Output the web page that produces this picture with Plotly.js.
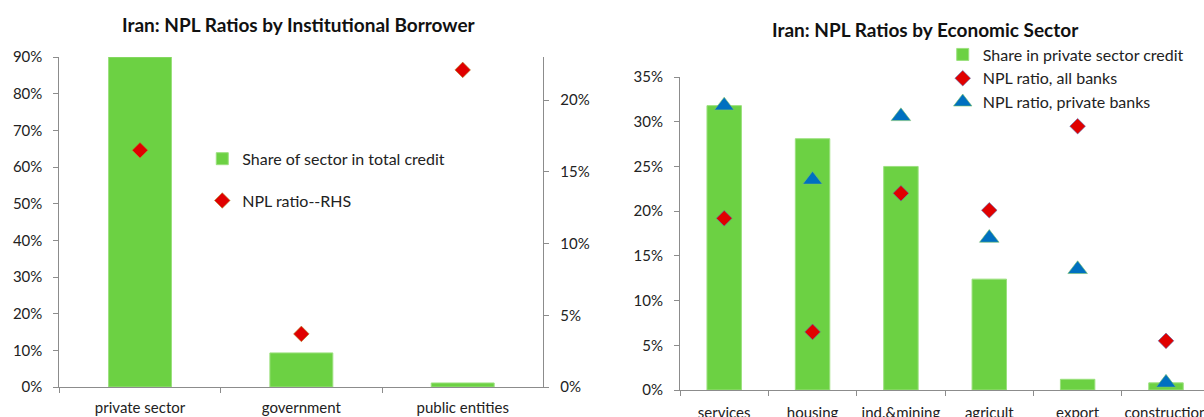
<!DOCTYPE html>
<html>
<head>
<meta charset="utf-8">
<script src="https://cdn.plot.ly/plotly-3.0.1.min.js"></script>
<style>html,body{margin:0;padding:0;background:#fff;}#chart{width:1204px;height:417px;}</style>
</head>
<body>
<div id="chart"></div>
<script>
// Left chart: by institutional borrower
const borrowers = ['private sector', 'government', 'public entities'];
const shareTotalCredit = [0.90, 0.093, 0.011];
const nplRatioRHS = [0.165, 0.037, 0.221];

// Right chart: by economic sector
const sectors = ['services', 'housing', 'ind.&mining', 'agricult', 'export', 'construction'];
const sharePrivateCredit = [0.318, 0.281, 0.250, 0.124, 0.012, 0.008];
const nplAllBanks = [0.192, 0.065, 0.220, 0.201, 0.295, 0.055];
const nplPrivateBanks = [0.318, 0.235, 0.306, 0.170, 0.135, 0.008];

const FONT = 'Lato, "Open Sans", sans-serif';
const GREEN = '#6CD143';
const RED = '#E00000';
const BLUE = '#0070C0';
const AXIS = '#8C8C8C';

const traces = [
  {type: 'bar', x: borrowers, y: shareTotalCredit, xaxis: 'x', yaxis: 'y',
   name: 'Share of sector in total credit', width: 0.39,
   marker: {color: GREEN, line: {color: '#9BE07E', width: 1}},
   legend: 'legend', legendgroup: 'a'},
  {type: 'scatter', mode: 'markers', x: borrowers, y: nplRatioRHS, xaxis: 'x', yaxis: 'y2',
   name: 'NPL ratio--RHS',
   marker: {symbol: 'diamond', size: 12, color: RED, line: {color: '#B08A2E', width: 0.6}},
   legend: 'legend', legendgroup: 'b'},
  {type: 'bar', x: sectors, y: sharePrivateCredit, xaxis: 'x3', yaxis: 'y3',
   name: 'Share in private sector credit', width: 0.39,
   marker: {color: GREEN, line: {color: '#9BE07E', width: 1}},
   legend: 'legend2', legendgroup: 'c'},
  {type: 'scatter', mode: 'markers', x: sectors, y: nplAllBanks, xaxis: 'x3', yaxis: 'y3',
   name: 'NPL ratio, all banks',
   marker: {symbol: 'diamond', size: 12, color: RED, line: {color: '#5A6FB0', width: 0.6}},
   legend: 'legend2', legendgroup: 'd'},
  {type: 'scatter', mode: 'markers', x: sectors, y: nplPrivateBanks, xaxis: 'x3', yaxis: 'y3',
   name: 'NPL ratio, private banks',
   marker: {symbol: 'triangle-up', size: 17, color: BLUE, line: {color: '#7CC46A', width: 0.6}},
   legend: 'legend2', legendgroup: 'e'}
];

const tickFont = {family: FONT, size: 15, color: '#222'};

const layout = {
  width: 1204, height: 417,
  margin: {l: 0, r: 0, t: 0, b: 0},
  paper_bgcolor: '#fff', plot_bgcolor: 'rgba(0,0,0,0)',
  font: {family: FONT, size: 15, color: '#222'},
  showlegend: true,
  xaxis: {domain: [0.0493, 0.4513], anchor: 'y', type: 'category',
    showline: true, linecolor: AXIS, linewidth: 1, showgrid: false,
    ticks: 'outside', tickson: 'boundaries', ticklen: 5, tickcolor: AXIS,
    tickfont: tickFont, ticklabelstandoff: 7, automargin: false, fixedrange: true},
  yaxis: {domain: [0.0719, 0.8633], anchor: 'x', range: [0, 0.9], dtick: 0.1,
    tickformat: '.0%', showline: true, linecolor: AXIS, linewidth: 1, showgrid: false,
    zeroline: false, ticks: 'outside', ticklen: 5, tickcolor: AXIS,
    tickfont: tickFont, ticklabelstandoff: 8, automargin: false, fixedrange: true},
  yaxis2: {overlaying: 'y', side: 'right', anchor: 'x', range: [0, 0.23], dtick: 0.05,
    tickformat: '.0%', showline: true, linecolor: AXIS, linewidth: 1, showgrid: false,
    zeroline: false, ticks: 'outside', ticklen: 5, tickcolor: AXIS,
    tickfont: tickFont, ticklabelstandoff: 8, automargin: false, fixedrange: true},
  xaxis3: {domain: [0.5648, 1], anchor: 'y3', type: 'category', range: [-0.5, 5.43],
    showline: true, linecolor: AXIS, linewidth: 1, showgrid: false,
    ticks: 'outside', tickson: 'boundaries', ticklen: 5, tickcolor: AXIS,
    tickfont: tickFont, ticklabelstandoff: 9, automargin: false, fixedrange: true},
  yaxis3: {domain: [0.0647, 0.8153], anchor: 'x3', range: [0, 0.35], dtick: 0.05,
    tickformat: '.0%', showline: true, linecolor: AXIS, linewidth: 1, showgrid: false,
    zeroline: false, ticks: 'outside', ticklen: 5, tickcolor: AXIS,
    tickfont: tickFont, ticklabelstandoff: 8, automargin: false, fixedrange: true},
  legend: {x: 0.168, y: 0.66, xanchor: 'left', yanchor: 'top', bgcolor: 'rgba(0,0,0,0)',
    font: {family: FONT, size: 16, color: '#222'}, traceorder: 'grouped', tracegroupgap: 18,
    itemwidth: 30},
  legend2: {x: 0.783, y: 0.91, xanchor: 'left', yanchor: 'top', bgcolor: 'rgba(0,0,0,0)',
    font: {family: FONT, size: 16, color: '#222'}, traceorder: 'grouped', tracegroupgap: 0,
    itemwidth: 30},
  annotations: [
    {text: '<b>Iran: NPL Ratios by Institutional Borrower</b>', xref: 'paper', yref: 'paper',
     x: 298.5 / 1204, y: 1 - 25 / 417, xanchor: 'center', yanchor: 'middle', showarrow: false,
     font: {family: FONT, size: 19, color: '#111'}},
    {text: '<b>Iran: NPL Ratios by Economic Sector</b>', xref: 'paper', yref: 'paper',
     x: 925.5 / 1204, y: 1 - 29 / 417, xanchor: 'center', yanchor: 'middle', showarrow: false,
     font: {family: FONT, size: 19, color: '#111'}}
  ]
};

Plotly.newPlot('chart', traces, layout, {displayModeBar: false, staticPlot: true});
</script>
</body>
</html>
